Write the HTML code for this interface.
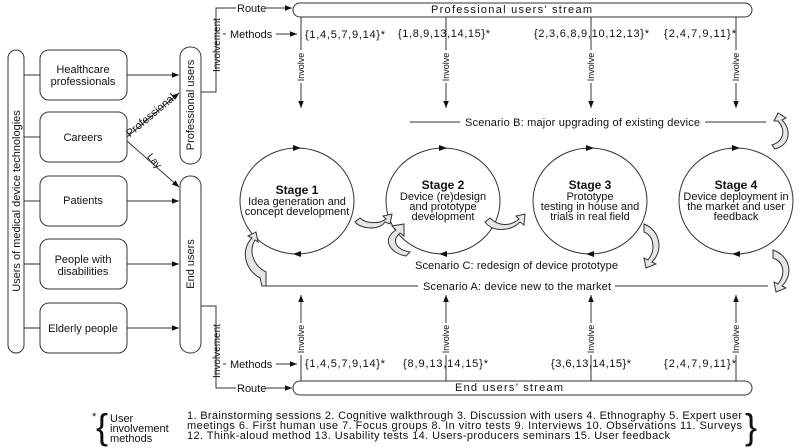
<!DOCTYPE html>
<html><head><meta charset="utf-8"><style>
body{margin:0;background:#fff}
svg{display:block;font-family:"Liberation Sans",sans-serif;}
text{fill:#111}
</style></head><body>
<svg width="800" height="448" viewBox="0 0 800 448" xmlns="http://www.w3.org/2000/svg">
<defs>
<marker id="a" viewBox="0 0 10 10" refX="10" refY="5" markerWidth="7" markerHeight="7" orient="auto-start-reverse"><path d="M0,1 L10,5 L0,9 Z" fill="#111"/></marker>
</defs>
<g stroke="#333" stroke-width="1" fill="none">
<rect x="8" y="50" width="16" height="303" rx="8"/>
<rect x="40" y="50" width="87" height="50" rx="9"/>
<rect x="40" y="112" width="87" height="50" rx="9"/>
<rect x="40" y="176" width="87" height="50" rx="9"/>
<rect x="40" y="239" width="87" height="50" rx="9"/>
<rect x="40" y="303" width="87" height="50" rx="9"/>
<line x1="24" y1="75" x2="40" y2="75"/><line x1="24" y1="137" x2="40" y2="137"/>
<line x1="24" y1="201" x2="40" y2="201"/><line x1="24" y1="264" x2="40" y2="264"/>
<line x1="24" y1="328" x2="40" y2="328"/>
<rect x="180" y="47" width="21" height="117" rx="10"/>
<rect x="180" y="176" width="21" height="177" rx="10"/>
<line x1="127" y1="75" x2="179" y2="75" marker-end="url(#a)"/>
<line x1="127" y1="201" x2="179" y2="201" marker-end="url(#a)"/>
<line x1="127" y1="264" x2="179" y2="264" marker-end="url(#a)"/>
<line x1="127" y1="328" x2="179" y2="328" marker-end="url(#a)"/>
<line x1="127" y1="137" x2="179" y2="93" marker-end="url(#a)"/>
<line x1="127" y1="141" x2="179" y2="187" marker-end="url(#a)"/>
<polyline points="201,92 216,92 216,8 236,8"/>
<line x1="266" y1="8" x2="292" y2="8" marker-end="url(#a)"/>
<line x1="223" y1="34" x2="226" y2="34"/>
<line x1="276" y1="34" x2="297" y2="34" marker-end="url(#a)"/>
<polyline points="201,306 216,306 216,388 236,388"/>
<line x1="266" y1="388" x2="292" y2="388" marker-end="url(#a)"/>
<line x1="223" y1="364" x2="226" y2="364"/>
<line x1="276" y1="364" x2="297" y2="364" marker-end="url(#a)"/>
<rect x="293" y="3" width="459" height="14" rx="7"/>
<rect x="293" y="381" width="459" height="14" rx="7"/>
<line x1="301" y1="17" x2="301" y2="50"/><line x1="301" y1="83" x2="301" y2="108" marker-end="url(#a)"/>
<line x1="446" y1="17" x2="446" y2="50"/><line x1="446" y1="83" x2="446" y2="108" marker-end="url(#a)"/>
<line x1="591" y1="17" x2="591" y2="50"/><line x1="591" y1="83" x2="591" y2="108" marker-end="url(#a)"/>
<line x1="736" y1="17" x2="736" y2="50"/><line x1="736" y1="83" x2="736" y2="108" marker-end="url(#a)"/>
<line x1="301" y1="381" x2="301" y2="355"/><line x1="301" y1="323" x2="301" y2="295" marker-end="url(#a)"/>
<line x1="446" y1="381" x2="446" y2="355"/><line x1="446" y1="323" x2="446" y2="295" marker-end="url(#a)"/>
<line x1="591" y1="381" x2="591" y2="355"/><line x1="591" y1="323" x2="591" y2="295" marker-end="url(#a)"/>
<line x1="736" y1="381" x2="736" y2="355"/><line x1="736" y1="323" x2="736" y2="295" marker-end="url(#a)"/>
<line x1="410" y1="122" x2="460" y2="122"/><line x1="705" y1="122" x2="766" y2="122"/>
<line x1="262" y1="286" x2="418" y2="286"/><line x1="615" y1="286" x2="768" y2="286"/>
<ellipse cx="297" cy="201" rx="57" ry="53"/>
<ellipse cx="443" cy="201" rx="57" ry="53"/>
<ellipse cx="590" cy="201" rx="57" ry="53"/>
<ellipse cx="736" cy="201" rx="57" ry="53"/>
</g>
<g fill="#111">
<path d="M293,145 l8,3 l-8,3z"/><path d="M301,251 l-8,3 l8,3z"/>
<path d="M439,145 l8,3 l-8,3z"/><path d="M447,251 l-8,3 l8,3z"/>
<path d="M586,145 l8,3 l-8,3z"/><path d="M594,251 l-8,3 l8,3z"/>
<path d="M732,145 l8,3 l-8,3z"/><path d="M740,251 l-8,3 l8,3z"/>
</g>
<g stroke="#333" stroke-width="1" fill="#e6e6e6">
<path d="M262,286 L260,278 C245,270 240,250 252,238 L248,236 L256,232 L258,242 L255,240 C248,252 254,266 266,272 L266,286 Z"/>
<path d="M355,222 C362,230 380,230 385,222 L390,224 L392,214 L383,216 L386,219 C380,224 366,224 360,218 Z"/>
<path d="M406,256 C392,254 380,240 396,230 L392,226 L404,224 L404,236 L400,233 C390,242 398,250 410,252 Z"/>
<path d="M485,222 C492,232 510,232 520,222 L524,225 L525,214 L516,216 L519,219 C510,227 498,226 490,218 Z"/>
<path d="M644,224 C660,230 664,250 652,262 L656,264 L646,268 L644,258 L648,260 C656,250 654,236 644,232 Z"/>
<path d="M775,149 C790,145 792,130 782,120 L786,118 L778,113 L774,121 L778,121 C786,130 784,141 772,145 Z"/>
<path d="M773,250 C790,256 794,274 782,286 L786,288 L776,292 L774,282 L778,284 C786,274 784,262 773,258 Z"/>
</g>
<g font-size="11" text-anchor="middle">
<text x="83" y="73">Healthcare</text><text x="83" y="85">professionals</text>
<text x="83" y="141">Careers</text>
<text x="83" y="204">Patients</text>
<text x="83" y="263">People with</text><text x="83" y="275">disabilities</text>
<text x="83" y="332">Elderly people</text>
<text transform="translate(20,201) rotate(-90)">Users of medical device technologies</text>
<text transform="translate(194,105) rotate(-90)">Professional users</text>
<text transform="translate(194,264) rotate(-90)">End users</text>
<text transform="translate(153,118) rotate(-40)">Professional</text>
<text transform="translate(152,163) rotate(48)" font-size="10">Lay</text>
<text transform="translate(220,45) rotate(-90)" font-size="10">Involvement</text>
<text transform="translate(220,351) rotate(-90)" font-size="10">Involvement</text>
</g>
<g font-size="11">
<text x="237" y="12">Route</text><text x="230" y="38">Methods</text>
<text x="237" y="392">Route</text><text x="230" y="368">Methods</text>
<text x="305" y="38" textLength="80">{1,4,5,7,9,14}*</text>
<text x="398" y="37" textLength="92">{1,8,9,13,14,15}*</text>
<text x="534" y="37" textLength="115">{2,3,6,8,9,10,12,13}*</text>
<text x="664" y="37" textLength="72">{2,4,7,9,11}*</text>
<text x="305" y="367" textLength="80">{1,4,5,7,9,14}*</text>
<text x="403" y="367" textLength="85">{8,9,13,14,15}*</text>
<text x="551" y="367" textLength="80">{3,6,13,14,15}*</text>
<text x="664" y="367" textLength="72">{2,4,7,9,11}*</text>
<text x="431" y="13" textLength="161">Professional users’ stream</text>
<text x="455" y="391" textLength="108">End users’ stream</text>
<text x="465" y="126" textLength="235">Scenario B: major upgrading of existing device</text>
<text x="415" y="269" textLength="203">Scenario C: redesign of device prototype</text>
<text x="423" y="290" textLength="188">Scenario A: device new to the market</text>
</g>
<g font-size="9" text-anchor="middle">
<text transform="translate(304,67) rotate(-90)">Involve</text>
<text transform="translate(449,67) rotate(-90)">Involve</text>
<text transform="translate(594,67) rotate(-90)">Involve</text>
<text transform="translate(739,67) rotate(-90)">Involve</text>
<text transform="translate(304,339) rotate(-90)">Involve</text>
<text transform="translate(449,339) rotate(-90)">Involve</text>
<text transform="translate(594,339) rotate(-90)">Involve</text>
<text transform="translate(739,339) rotate(-90)">Involve</text>
</g>
<g font-size="11" text-anchor="middle">
<text x="297" y="194" font-weight="bold" font-size="12">Stage 1</text>
<text x="297" y="205">Idea generation and</text><text x="297" y="215">concept development</text>
<text x="443" y="189" font-weight="bold" font-size="12">Stage 2</text>
<text x="443" y="200">Device (re)design</text><text x="443" y="210">and prototype</text><text x="443" y="220">development</text>
<text x="590" y="189" font-weight="bold" font-size="12">Stage 3</text>
<text x="590" y="200">Prototype</text><text x="590" y="210">testing in house and</text><text x="590" y="220">trials in real field</text>
<text x="736" y="189" font-weight="bold" font-size="12">Stage 4</text>
<text x="736" y="200">Device deployment in</text><text x="736" y="210">the market and user</text><text x="736" y="220">feedback</text>
</g>
<g font-size="11">
<text x="92" y="420">*</text>
<text x="96" y="439" font-size="36" font-weight="300">{</text>
<text x="110" y="422">User</text><text x="110" y="432">involvement</text><text x="110" y="442">methods</text>
<text x="187" y="419" textLength="555">1. Brainstorming sessions  2. Cognitive walkthrough  3. Discussion with users  4. Ethnography  5. Expert user</text>
<text x="187" y="429" textLength="555">meetings  6. First human use  7. Focus groups  8. In vitro tests  9. Interviews  10. Observations  11. Surveys</text>
<text x="187" y="439" textLength="483">12. Think-aloud method  13. Usability tests  14. Users-producers seminars  15. User feedback</text>
<text x="745" y="439" font-size="36">}</text>
</g>
</svg>
</body></html>
